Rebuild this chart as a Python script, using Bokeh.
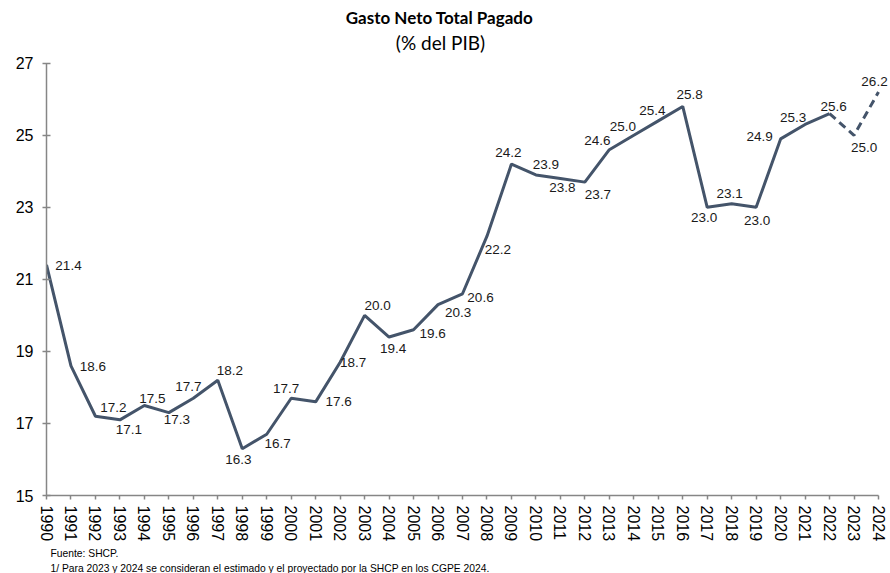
from bokeh.plotting import figure
from bokeh.models import Range1d, FixedTicker, ColumnDataSource, LabelSet, Label, Title
from bokeh.core.properties import value
from bokeh.embed import file_html
from bokeh.resources import INLINE

years = list(range(1990, 2025))
values = [21.4, 18.6, 17.2, 17.1, 17.5, 17.3, 17.7, 18.2, 16.3, 16.7,
          17.7, 17.6, 18.7, 20.0, 19.4, 19.6, 20.3, 20.6, 22.2, 24.2,
          23.9, 23.8, 23.7, 24.6, 25.0, 25.4, 25.8, 23.0, 23.1, 23.0,
          24.9, 25.3, 25.6, 25.0, 26.2]
value_labels = ["%.1f" % v for v in values]
y_ticks = [15, 17, 19, 21, 23, 25, 27]
title_text = "Gasto Neto Total Pagado"
subtitle_text = "(% del PIB)"
note1 = "Fuente: SHCP."
note2 = "1/ Para 2023 y 2024 se consideran el estimado y el proyectado por la SHCP en los CGPE 2024."
n_solid = 33  # 1990..2022 solid, 2022..2024 dashed (estimated / projected)

# label offsets in screen pixels (dx right, dy down)
lab_dx = [22, 22, 18, 9, 8, 8, -5, 12, -4, 11, -5, 23, 13, 13, 4, 19, 20, 18, 11, -3,
          10, 2, 13, -12, -11, -6, 7, -3, -2, 1, -21, -12, 4, 10, -4]
lab_dy = [1, 1, -9, 10, -7, 7, -12, -10, 11, 9, -10, 0, 0, -10, 11, 4, 8, 4, 13, -12,
          -10, 9, 12, -9, -9, -10, -12, 10, -10, 13, -2, -7, -7, 12, -11]

LINE = "#44546A"
AX = "#868686"

# frame spans the plot area plus room for the title (top) and right overflow
px_per_unit = 434 / 12.0
px_per_year = 832 / 34.0
y_top = 27 + 63 / px_per_unit
x_right = 2024 + 12 / px_per_year

p = figure(width=890, height=573, output_backend="svg", toolbar_location=None,
           x_range=Range1d(1990, x_right), y_range=Range1d(15, y_top),
           min_border_left=46, min_border_right=0, min_border_top=0, min_border_bottom=20,
           background_fill_color="white", border_fill_color="white")
p.outline_line_color = None
p.grid.visible = False

p.line(years[:n_solid], values[:n_solid], line_color=LINE, line_width=3)
p.line(years[n_solid - 1:], values[n_solid - 1:], line_color=LINE, line_width=3, line_dash="8 5")

src = ColumnDataSource(dict(x=years, y=values, t=value_labels, dx=lab_dx,
                            dy=[-d for d in lab_dy]))
p.add_layout(LabelSet(x="x", y="y", text="t", source=src, x_offset="dx", y_offset="dy",
                      text_align="center", text_baseline="middle",
                      text_font=value("Liberation Sans"), text_font_size=value("13.5px"),
                      text_color="#1a1a1a"))

p.yaxis.ticker = FixedTicker(ticks=y_ticks)
p.xaxis.ticker = FixedTicker(ticks=years)
p.yaxis.bounds = (15, 27)
p.xaxis.bounds = (1990, 2024)
for ax in (p.xaxis, p.yaxis):
    ax.axis_line_color = AX
    ax.axis_line_width = 1.5
    ax.major_tick_line_color = AX
    ax.major_tick_line_width = 1.5
    ax.minor_tick_line_color = None
    ax.major_label_text_font = "Liberation Sans"
    ax.major_label_text_color = "#000000"
p.yaxis.major_tick_in = 4
p.yaxis.major_tick_out = 4
p.yaxis.major_label_standoff = 9
p.yaxis.major_label_text_font_size = "16px"
p.xaxis.major_tick_in = 0
p.xaxis.major_tick_out = 4
p.xaxis.major_label_standoff = 6
p.xaxis.major_label_orientation = "vertical"
p.xaxis.major_label_text_font_size = "16px"

p.add_layout(Label(x=393, y=478, x_units="screen", y_units="screen", text=title_text,
                   text_align="center", text_baseline="middle", text_font="Lato",
                   text_font_style="bold", text_font_size="17px", text_color="#000000"))
p.add_layout(Label(x=394, y=453, x_units="screen", y_units="screen", text=subtitle_text,
                   text_align="center", text_baseline="middle", text_font="Lato",
                   text_font_size="19px", text_color="#000000"))

p.add_layout(Title(text=note1, align="left", offset=4, standoff=3,
                   text_font="Liberation Sans", text_font_style="normal",
                   text_font_size="10.3px", text_color="#000000"), "below")
p.add_layout(Title(text=note2, align="left", offset=4, standoff=0,
                   text_font="Liberation Sans", text_font_style="normal",
                   text_font_size="10.3px", text_color="#000000"), "below")

open("out.html", "w").write(file_html(p, INLINE))
